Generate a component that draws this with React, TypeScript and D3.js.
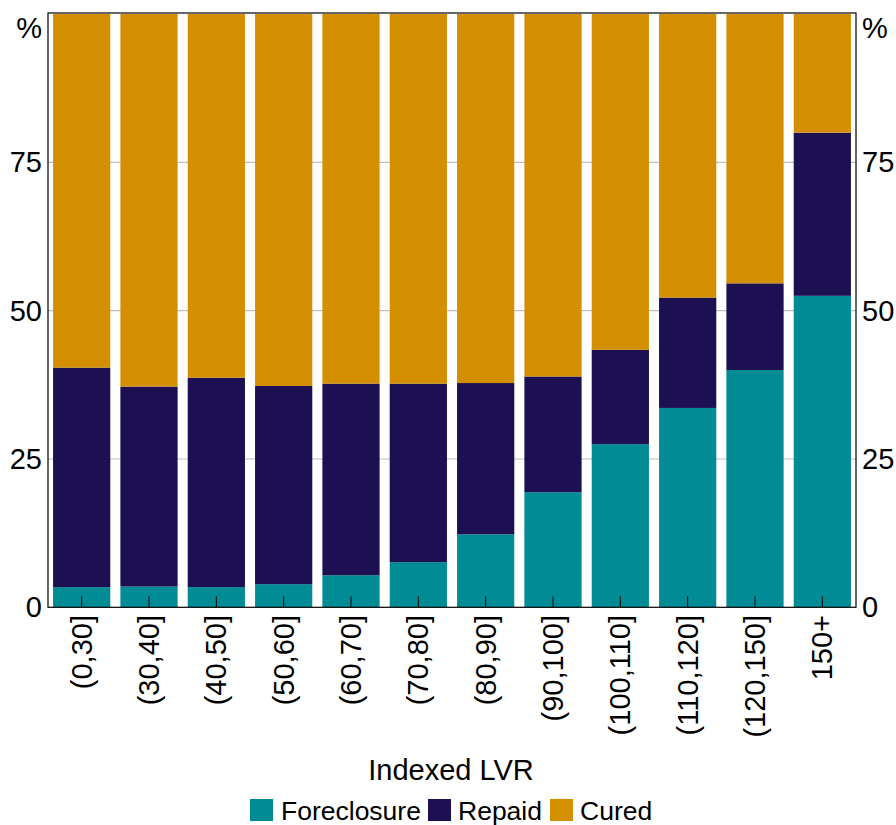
import React from "react";
import * as d3 from "d3";

const categories = ["(0,30]", "(30,40]", "(40,50]", "(50,60]", "(60,70]", "(70,80]", "(80,90]", "(90,100]", "(100,110]", "(110,120]", "(120,150]", "150+"];
const foreclosure = [3.4, 3.5, 3.4, 3.9, 5.4, 7.6, 12.3, 19.4, 27.5, 33.6, 40.0, 52.5];
const repaid = [37.0, 33.7, 35.3, 33.4, 32.3, 30.1, 25.5, 19.5, 15.9, 18.6, 14.6, 27.5];
const seriesNames = ["Foreclosure", "Repaid", "Cured"];
const colors = ["#008B95", "#1C1052", "#D38F00"];
const yTicks = [0, 25, 50, 75];

export default function App() {
  const W = 896, H = 825;
  const left = 48, right = 856, top = 14, bottom = 607.3;
  const font = "Arial, 'Liberation Sans', sans-serif";

  const rows = categories.map((c, i) => ({
    cat: c,
    Foreclosure: foreclosure[i],
    Repaid: repaid[i],
    Cured: 100 - foreclosure[i] - repaid[i],
  }));
  const stack = d3.stack<any>().keys(seriesNames)(rows);

  const x = d3.scaleBand().domain(categories).range([left, right]).paddingInner(0.15).paddingOuter(0.075);
  const y = d3.scaleLinear().domain([0, 100]).range([bottom, top]);

  const legendItems = [
    { name: "Foreclosure", sx: 250, tx: 281 },
    { name: "Repaid", sx: 428, tx: 458 },
    { name: "Cured", sx: 550, tx: 580 },
  ];

  return (
    <svg width={W} height={H} style={{ position: "absolute", left: 0, top: 0, background: "#fff" }} fontFamily={font}>
      {yTicks.filter((t) => t > 0).map((t) => (
        <line key={t} x1={left} x2={right} y1={y(t)} y2={y(t)} stroke="#c0c0c0" strokeWidth={1.2} />
      ))}
      {stack.map((s, si) => (
        <g key={si} fill={colors[si]}>
          {s.map((d, i) => (
            <rect key={i} x={x(categories[i])} width={x.bandwidth()} y={y(d[1])} height={y(d[0]) - y(d[1])} />
          ))}
        </g>
      ))}
      {categories.map((c) => (
        <line key={c} x1={x(c)! + x.bandwidth() / 2} x2={x(c)! + x.bandwidth() / 2} y1={bottom} y2={bottom - 11} stroke="#000" strokeWidth={1} />
      ))}
      <rect x={left} y={top - 1} width={right - left} height={bottom - top + 1} fill="none" stroke="#000" strokeWidth={1.2} />
      {yTicks.map((t) => (
        <g key={t} fontSize={29}>
          <text x={left - 6} y={y(t)} dy="0.35em" textAnchor="end">{t}</text>
          <text x={right + 6} y={y(t)} dy="0.35em" textAnchor="start">{t}</text>
        </g>
      ))}
      <text x={left - 6} y={38} fontSize={29} textAnchor="end">%</text>
      <text x={right + 6} y={38} fontSize={29} textAnchor="start">%</text>
      {categories.map((c) => {
        const cx = x(c)! + x.bandwidth() / 2;
        const cy = 615;
        return (
          <text key={c} transform={`translate(${cx},${cy}) rotate(-90)`} fontSize={29} textAnchor="end" dy="0.35em">{c}</text>
        );
      })}
      <text x={451} y={780} fontSize={29} textAnchor="middle">Indexed LVR</text>
      {legendItems.map((l, i) => (
        <g key={l.name}>
          <rect x={l.sx} y={799} width={23} height={22} fill={colors[i]} />
          <text x={l.tx} y={820} fontSize={26.5}>{l.name}</text>
        </g>
      ))}
    </svg>
  );
}
